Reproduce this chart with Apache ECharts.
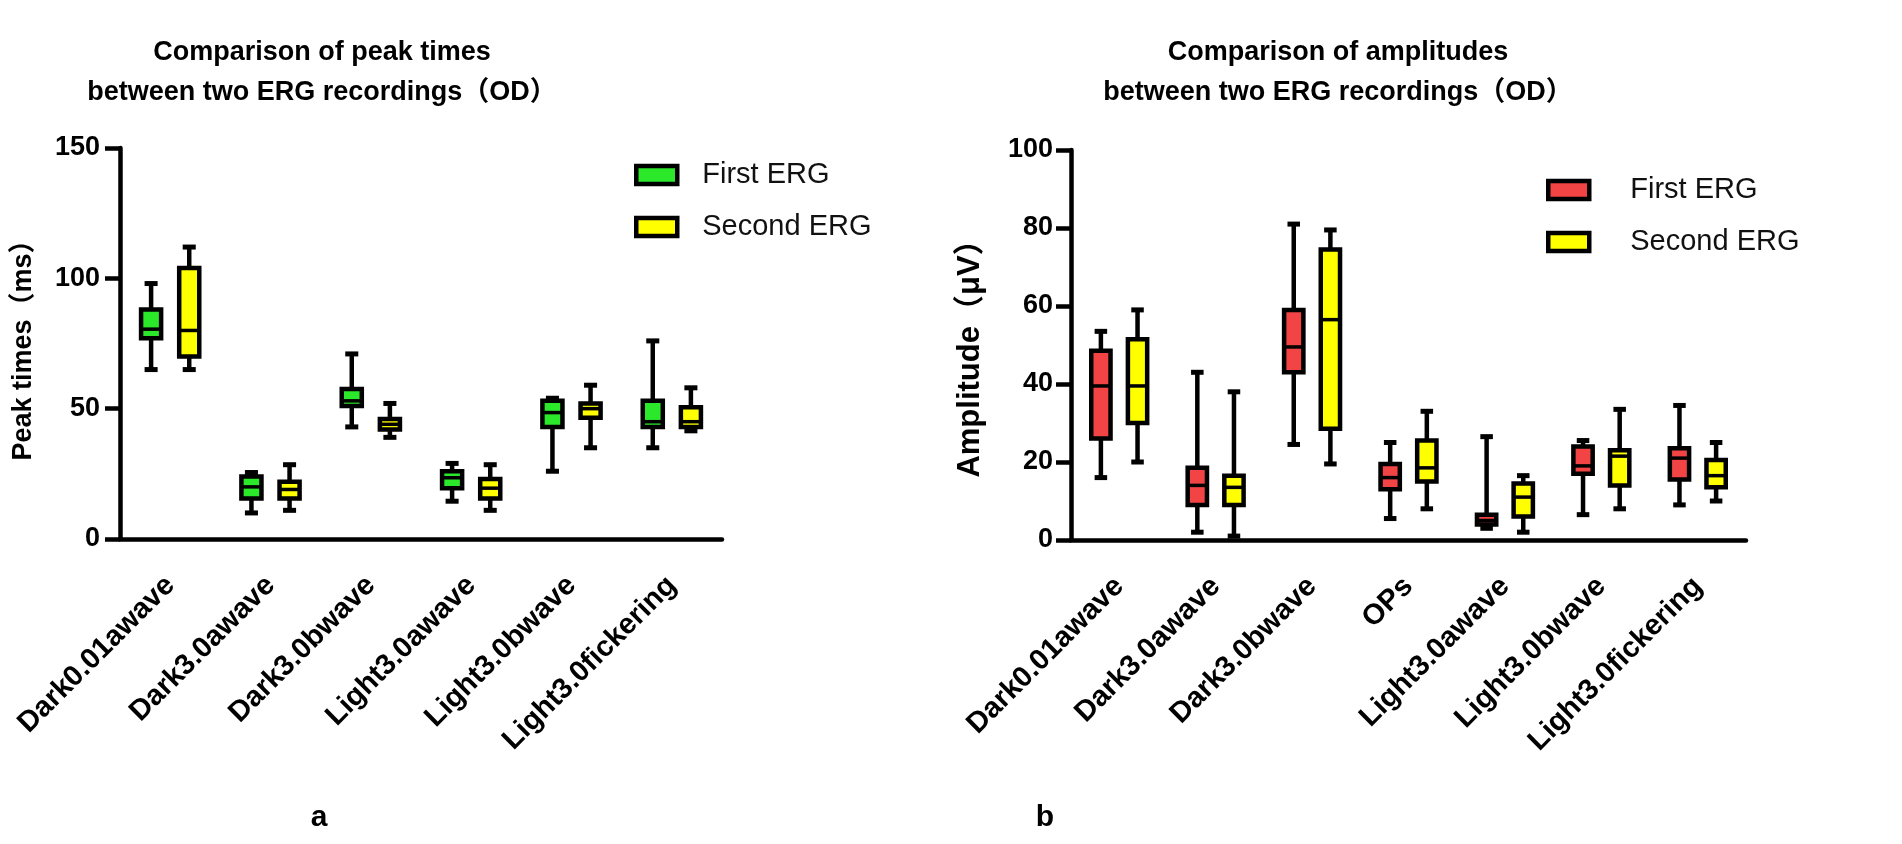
<!DOCTYPE html>
<html><head><meta charset="utf-8">
<script src="https://cdn.jsdelivr.net/npm/echarts@6/dist/echarts.min.js"></script>
<style>html,body{margin:0;padding:0;background:#fff}#c{width:1902px;height:844px}</style>
</head><body><div id="c"></div>
<script>
// ---- data: each box = [min, Q1, median, Q3, max]
const peakCategories = ['Dark0.01awave','Dark3.0awave','Dark3.0bwave','Light3.0awave','Light3.0bwave','Light3.0fickering'];
const peakFirst  = [[65,77,80.5,88,98],[10,15.5,20,24,25.5],[43,51,53,57.5,71],[14.5,19.5,23.5,26,29],[26,43,48.5,53,54],[35,43,45,53,76]];
const peakSecond = [[65,70,80,104,112],[11,15.5,19,22,28.5],[39,42,44,46,52],[11,15.5,19.5,23,28.5],[35,46.5,50,52,59],[41.5,43,45,50.5,58]];
const peakTicks = [0,50,100,150];

const ampCategories = ['Dark0.01awave','Dark3.0awave','Dark3.0bwave','OPs','Light3.0awave','Light3.0bwave','Light3.0fickering'];
const ampFirst  = [[16,26,39.5,48.5,53.5],[2,9,14,18.5,43],[24.5,43,49.5,59,81],[5.5,13,16,19.5,25],[3,4,5,6.5,26.5],[6.5,17,19,24,25.5],[9,15.5,21,23.5,34.5]];
const ampSecond = [[20,30,39.5,51.5,59],[1,9,13.5,16.5,38],[19.5,28.5,56.5,74.5,79.5],[8,15,18.5,25.5,33],[2,6,11,14.5,16.5],[8,14,21.5,23,33.5],[10,13.5,16.5,20.5,25]];
const ampTicks = [0,20,40,60,80,100];

const seriesNames = ['First ERG','Second ERG'];
const titles = ['Comparison of peak times\nbetween two ERG recordings（OD）', 'Comparison of amplitudes\nbetween two ERG recordings（OD）'];
const panelLabels = ['a', 'b'];
const GREEN = '#2BE82B', YELLOW = '#FFFF00', RED = '#F24444';
const FONT = 'Arial, "Liberation Sans", "Noto Sans CJK SC", sans-serif';

function boxRenderer(side) {
  return function (params, api) {
    const cat = api.value(0);
    const band = api.size([1, 0])[0];
    const cx = api.coord([cat, 0])[0] + side * 0.19 * band;
    const y = i => api.coord([cat, api.value(i)])[1];
    const yMin = y(1), yQ1 = y(2), yMed = y(3), yQ3 = y(4), yMax = y(5);
    const bw = 0.2 * band, cw = 0.13 * band;
    const fill = api.visual('color');
    return {type: 'group', children: [
      {type: 'line', shape: {x1: cx, y1: yMax, x2: cx, y2: yMin}, style: {stroke: '#000', lineWidth: 4.5}},
      {type: 'line', shape: {x1: cx - cw/2, y1: yMax, x2: cx + cw/2, y2: yMax}, style: {stroke: '#000', lineWidth: 5}},
      {type: 'line', shape: {x1: cx - cw/2, y1: yMin, x2: cx + cw/2, y2: yMin}, style: {stroke: '#000', lineWidth: 5}},
      {type: 'rect', shape: {x: cx - bw/2, y: yQ3, width: bw, height: yQ1 - yQ3}, style: {fill: fill, stroke: '#000', lineWidth: 4.5}},
      {type: 'line', shape: {x1: cx - bw/2, y1: yMed, x2: cx + bw/2, y2: yMed}, style: {stroke: '#000', lineWidth: 3.5}}
    ]};
  };
}
function toData(arr) { return arr.map((d, i) => [i].concat(d)); }

function xAxisCfg(gridIndex, cats) {
  return {
    gridIndex, type: 'category', data: cats, boundaryGap: true,
    axisLine: {lineStyle: {color: '#000', width: 4.5}},
    axisTick: {alignWithLabel: true, length: 17, lineStyle: {color: '#000', width: 4.5}},
    axisLabel: {rotate: 45, interval: 0, margin: 42, fontSize: 29, fontWeight: 'bold', color: '#000', fontFamily: FONT},
    splitLine: {show: false}
  };
}
function yAxisCfg(gridIndex, ticks, name, gap, pad, margin, nameSize) {
  return {
    gridIndex, type: 'value', min: ticks[0], max: ticks[ticks.length - 1], interval: ticks[1] - ticks[0],
    axisLine: {show: true, lineStyle: {color: '#000', width: 4.5}},
    axisTick: {show: true, length: 15, lineStyle: {color: '#000', width: 4.5}},
    axisLabel: {fontSize: 27, fontWeight: 'bold', color: '#000', margin: margin, fontFamily: FONT},
    splitLine: {show: false},
    name: name, nameLocation: 'middle', nameGap: gap,
    nameTextStyle: {fontSize: nameSize, fontWeight: 'bold', color: '#000', fontFamily: FONT, padding: pad}
  };
}
const titleStyle = {fontSize: 27, fontWeight: 'bold', color: '#000', fontFamily: FONT, lineHeight: 40};
const labelStyle = {fontSize: 30, fontWeight: 'bold', color: '#000', fontFamily: FONT};
const legendText = {fontSize: 29, color: '#111', fontFamily: FONT, lineHeight: 30};

const chart = echarts.init(document.getElementById('c'), null, {renderer: 'canvas'});
chart.setOption({
  backgroundColor: '#fff',
  animation: false,
  title: [
    {text: titles[0], left: 322, top: 33, textAlign: 'center', padding: 0, textStyle: titleStyle},
    {text: titles[1], left: 1338, top: 33, textAlign: 'center', padding: 0, textStyle: titleStyle},
    {text: panelLabels[0], left: 319, top: 803, textAlign: 'center', padding: 0, textStyle: labelStyle},
    {text: panelLabels[1], left: 1045, top: 803, textAlign: 'center', padding: 0, textStyle: labelStyle}
  ],
  legend: [
    {orient: 'vertical', left: 634, top: 160, padding: 0, icon: 'rect', itemWidth: 41, itemHeight: 18, itemGap: 22, selectedMode: false,
     textStyle: Object.assign({padding: [0, 0, 0, 20]}, legendText),
     data: [{name: seriesNames[0], itemStyle: {color: GREEN, borderColor: '#000', borderWidth: 4.5}},
            {name: seriesNames[1], itemStyle: {color: YELLOW, borderColor: '#000', borderWidth: 4.5}}]},
    {orient: 'vertical', left: 1546, top: 175, padding: 0, icon: 'rect', itemWidth: 41, itemHeight: 18, itemGap: 22, selectedMode: false,
     textStyle: Object.assign({padding: [0, 0, 0, 36]}, legendText),
     data: [{name: seriesNames[0], itemStyle: {color: RED, borderColor: '#000', borderWidth: 4.5}},
            {name: seriesNames[1], itemStyle: {color: YELLOW, borderColor: '#000', borderWidth: 4.5}}]}
  ],
  grid: [
    {left: 120, top: 148, width: 602, height: 391},
    {left: 1071, top: 150, width: 675, height: 390}
  ],
  xAxis: [xAxisCfg(0, peakCategories), xAxisCfg(1, ampCategories)],
  yAxis: [
    yAxisCfg(0, peakTicks, 'Peak times（ms）', 83, [0, 0, 0, 0], 20, 27),
    yAxisCfg(1, ampTicks, 'Amplitude（μV）', 85, [0, 12, 0, 0], 18, 31)
  ],
  series: [
    {name: seriesNames[0], type: 'custom', xAxisIndex: 0, yAxisIndex: 0, itemStyle: {color: GREEN}, encode: {x: 0, y: [1,2,3,4,5]}, renderItem: boxRenderer(-1), data: toData(peakFirst)},
    {name: seriesNames[1], type: 'custom', xAxisIndex: 0, yAxisIndex: 0, itemStyle: {color: YELLOW}, encode: {x: 0, y: [1,2,3,4,5]}, renderItem: boxRenderer(1), data: toData(peakSecond)},
    {name: seriesNames[0], type: 'custom', xAxisIndex: 1, yAxisIndex: 1, itemStyle: {color: RED}, encode: {x: 0, y: [1,2,3,4,5]}, renderItem: boxRenderer(-1), data: toData(ampFirst)},
    {name: seriesNames[1], type: 'custom', xAxisIndex: 1, yAxisIndex: 1, itemStyle: {color: YELLOW}, encode: {x: 0, y: [1,2,3,4,5]}, renderItem: boxRenderer(1), data: toData(ampSecond)}
  ]
});
</script></body></html>
